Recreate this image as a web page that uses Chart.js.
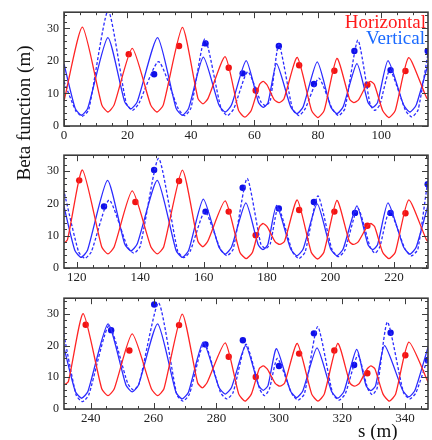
<!DOCTYPE html>
<html>
<head>
<meta charset="utf-8">
<script src="https://cdn.jsdelivr.net/npm/chart.js@4/dist/chart.umd.min.js"></script>
<style>
  body { margin: 0; background: #fff; width: 432px; height: 440px; position: relative; overflow: hidden; font-family: "Liberation Serif", serif; }
  canvas { position: absolute; left: 0; }
  .lbl { position: absolute; font-size: 19px; line-height: 19px; white-space: nowrap; }
  #ytitle { left: -76px; top: 102px; width: 200px; text-align: center; line-height: 22px; transform: rotate(-90deg); color: #111; }
</style>
</head>
<body>
<canvas id="p1" width="432" height="143" style="top:0px"></canvas>
<canvas id="p2" width="432" height="143" style="top:143px"></canvas>
<canvas id="p3" width="432" height="154" style="top:286px"></canvas>
<div class="lbl" style="right:6px;top:12px;color:#ff1a1a">Horizontal</div>
<div class="lbl" style="right:7px;top:28px;color:#1a6aff">Vertical</div>
<div class="lbl" style="left:358px;top:421px;color:#111">s (m)</div>
<div class="lbl" id="ytitle">Beta function (m)</div>
<script>
// horizontal beta (model), s in m
const redS = [
  0, 5.8, 11.9, 13.85, 15.8, 21.5, 27.3, 29.3, 31.3, 37.3, 42.2, 43.8, 45.4, 50.8, 55.0, 57.0, 59.0,
  61.6, 62.8, 64.0, 66.3, 67.8, 69.3, 73.5, 78.0, 80.0, 82.0, 86.0, 90.0, 91.3, 92.8, 95.3, 96.5, 97.8,
  100.4, 102.4, 104.4, 108.6, 114.3, 115.7, 117.1,
  121.8, 127.9, 129.85, 131.8, 137.5, 143.4, 145.4, 147.4, 153.3, 158.2, 159.75, 161.3, 166.8, 171.4, 173.4, 175.4,
  177.6, 178.8, 180.1, 182.5, 184.0, 185.5, 189.5, 193.9, 195.9, 197.9, 202.0, 205.9, 207.2, 208.7, 211.4, 212.6, 213.9,
  216.4, 218.4, 220.4, 224.6, 230.2, 231.5, 232.9,
  237.6, 243.5, 245.5, 247.5, 253.2, 259.3, 261.3, 263.3, 269.1, 274.0, 275.5, 277.0, 282.8, 287.1, 289.1, 291.1,
  293.6, 294.9, 296.2, 298.7, 300.2, 301.7, 305.7, 310.3, 312.3, 314.3, 318.6, 322.5, 323.9, 325.4, 327.9, 329.1, 330.4,
  333.0, 335.0, 337.0, 341.2, 347.5
];
const redB = [
  7.7, 30.4, 6.5, 4.3, 6.5, 23.9, 6.5, 4.3, 6.5, 30.3, 8.5, 6.8, 8.5, 21.3, 4.8, 2.7, 4.8,
  12.8, 13.7, 12.6, 8.0, 7.2, 8.3, 21.1, 4.8, 2.6, 4.8, 20.8, 8.2, 7.2, 8.0, 12.6, 13.7, 12.8,
  4.8, 2.6, 4.8, 21.0, 8.6, 7.6, 8.8,
  30.4, 6.5, 4.4, 6.5, 23.9, 6.5, 4.4, 6.5, 30.4, 8.3, 6.6, 8.3, 20.8, 4.9, 2.9, 4.9,
  12.8, 13.8, 12.7, 8.2, 7.3, 8.3, 21.1, 4.9, 2.8, 4.9, 21.0, 8.2, 7.3, 8.1, 12.7, 13.8, 12.8,
  4.9, 2.9, 4.9, 21.1, 8.8, 7.7, 8.7,
  30.1, 6.4, 4.2, 6.4, 23.7, 6.4, 4.2, 6.4, 30.0, 8.3, 6.7, 8.3, 20.9, 4.7, 2.5, 4.7,
  12.7, 13.6, 12.6, 8.1, 7.2, 8.2, 20.7, 4.7, 2.5, 4.7, 20.7, 8.1, 7.2, 8.0, 12.6, 13.6, 12.7,
  4.7, 2.5, 4.7, 21.1, 8.1
];

// vertical beta (model)
const blueS = [
  0, 3.5, 5.5, 7.5, 13.8, 19.1, 21.1, 23.1, 29.5, 35.3, 37.3, 39.3, 43.9, 48.8, 50.8, 52.8, 57.4,
  61.3, 62.8, 64.3, 67.0, 71.4, 73.4, 75.4, 79.8, 84.0, 86.0, 88.0, 92.3, 95.8, 97.3, 98.8, 102.1,
  107.0, 109.0, 111.0, 115.4,
  116.0, 119.4, 121.4, 123.4, 129.7, 135.1, 137.1, 139.1, 145.4, 151.3, 153.3, 155.3, 159.9, 164.8, 166.8, 168.8, 173.3,
  177.2, 178.7, 180.2, 183.0, 187.4, 189.4, 191.4, 195.8, 200.0, 202.0, 204.0, 208.3, 211.8, 213.3, 214.8, 218.1,
  223.0, 225.0, 227.0, 231.2,
  231.6, 235.1, 237.1, 239.1, 245.5, 251.2, 253.2, 255.2, 261.3, 267.1, 269.1, 271.1, 275.8, 280.8, 282.8, 284.8, 289.3,
  293.4, 294.9, 296.4, 299.1, 303.5, 305.5, 307.5, 312.0, 316.6, 318.6, 320.6, 324.6, 327.6, 329.1, 330.6, 333.5,
  339.2, 341.2, 343.2, 347.6
];
const blueB = [
  19.1, 5.5, 3.3, 5.5, 27.2, 7.5, 5.3, 7.5, 27.2, 5.5, 3.3, 5.5, 21.2, 6.5, 4.3, 6.5, 20.1,
  7.2, 5.7, 7.2, 19.2, 6.0, 3.8, 6.0, 19.7, 6.0, 3.8, 6.0, 19.2, 7.2, 5.7, 7.2, 20.1,
  6.5, 4.3, 6.5, 21.0,
  19.0, 5.5, 3.3, 5.5, 27.2, 7.5, 5.3, 7.5, 27.2, 5.5, 3.3, 5.5, 21.4, 6.5, 4.3, 6.5, 20.2,
  7.2, 5.7, 7.2, 19.4, 6.0, 3.8, 6.0, 19.9, 6.0, 3.8, 6.0, 19.3, 7.2, 5.7, 7.2, 20.2,
  6.5, 4.3, 6.5, 21.0,
  19.0, 5.5, 3.4, 5.5, 26.9, 7.6, 5.4, 7.6, 26.9, 5.3, 3.2, 5.3, 21.1, 6.8, 4.7, 6.8, 20.0,
  7.4, 5.9, 7.4, 19.1, 5.8, 3.6, 5.8, 19.3, 5.6, 3.4, 5.6, 18.8, 7.3, 5.8, 7.3, 20.0,
  6.0, 3.8, 6.0, 20.5
];

// vertical beta (dashed)
const dashS = [
  0, 3.8, 5.8, 7.8, 13.9, 19.6, 21.6, 23.6, 29.8, 36.0, 38.0, 40.0, 44.4, 49.5, 51.5, 53.5, 57.9,
  62.0, 63.5, 65.0, 67.7, 72.0, 74.0, 76.0, 80.3, 84.5, 86.5, 88.5, 92.6, 96.5, 98.0, 99.5, 102.7,
  107.6, 109.6, 111.6, 115.4,
  116.0, 120.6, 122.6, 124.6, 130.2, 136.0, 138.0, 140.0, 145.8, 151.8, 153.8, 155.8, 160.4, 165.3, 167.3, 169.3, 173.7,
  178.0, 179.5, 181.0, 183.5, 188.0, 190.0, 192.0, 196.0, 200.5, 202.5, 204.5, 208.6, 212.5, 214.0, 215.5, 218.6,
  223.5, 225.5, 227.5, 230.9,
  231.6, 235.4, 237.4, 239.4, 245.8, 251.8, 253.6, 255.4, 261.6, 267.4, 269.4, 271.4, 276.1, 281.3, 283.3, 285.3, 289.4,
  293.8, 295.3, 296.8, 299.4, 304.0, 306.0, 308.0, 312.2, 317.0, 319.0, 321.0, 325.0, 328.1, 329.6, 331.1, 334.4,
  339.5, 341.5, 343.5, 347.5
];
const dashB = [
  13.7, 4.5, 3.0, 5.0, 35.5, 7.0, 4.8, 7.0, 19.8, 5.3, 3.2, 5.5, 26.8, 5.3, 3.2, 5.3, 16.7,
  7.5, 6.2, 7.8, 25.1, 5.3, 3.2, 5.3, 14.7, 5.3, 3.2, 5.3, 26.4, 6.5, 4.8, 6.5, 17.2,
  4.8, 2.8, 5.0, 26.0,
  23.7, 5.0, 3.0, 5.0, 21.1, 6.5, 4.6, 6.7, 34.0, 5.3, 3.2, 5.3, 17.5, 5.8, 3.8, 5.8, 27.8,
  7.5, 6.0, 7.5, 18.8, 5.0, 2.9, 5.0, 22.4, 5.5, 3.5, 5.5, 18.5, 6.4, 4.6, 6.5, 17.8,
  5.8, 3.8, 5.8, 28.2,
  22.9, 4.3, 2.3, 4.5, 26.3, 8.0, 6.0, 8.0, 33.5, 4.5, 2.5, 4.7, 20.9, 5.2, 3.2, 5.2, 20.5,
  6.2, 4.2, 6.2, 16.0, 4.8, 2.8, 4.8, 26.0, 4.8, 2.8, 4.8, 17.0, 6.5, 4.5, 6.5, 27.5,
  5.2, 3.2, 5.2, 17.0
];

// measured points
const redDotS = [20.4, 36.25, 51.9, 60.4, 74.1, 85.2, 95.6, 107.6,
  120.8, 138.5, 152.25, 167.9, 176.4, 190.1, 201.2, 211.6, 223.6,
  238.4, 252.3, 268.1, 283.9, 292.5, 306.3, 317.5, 328.0, 340.1];
const redDotB = [22.1, 24.6, 17.9, 10.9, 18.7, 17.0, 12.7, 16.9,
  27.2, 20.5, 27.0, 17.5, 10.2, 18.0, 17.5, 13.1, 17.0,
  26.6, 18.5, 26.5, 16.5, 10.1, 17.5, 18.5, 11.3, 17.0];
const blueDotS = [28.4, 44.6, 56.3, 67.7, 78.75, 91.5, 102.9, 114.6,
  128.6, 144.4, 160.6, 172.3, 183.7, 194.75, 207.7, 218.9, 230.6,
  246.5, 260.2, 276.5, 288.4, 299.9, 311.0, 323.8, 335.4, 347.2];
const blueDotB = [15.9, 25.4, 16.2, 24.6, 12.9, 23.1, 17.2, 23.1,
  19.1, 30.4, 17.5, 24.9, 18.5, 20.5, 17.1, 17.1, 26.0,
  24.9, 33.0, 20.4, 21.7, 13.6, 23.9, 13.9, 24.1, 15.5];

// axis ticks
const xTicks1 = [0, 20, 40, 60, 80, 100];
const xTicks2 = [120, 140, 160, 180, 200, 220];
const xTicks3 = [240, 260, 280, 300, 320, 340];
const yTicks = [0, 10, 20, 30];

const RED = "#ff2424";
const BLUE = "#2b2bff";

const pts = (S, B) => S.map((s, i) => ({ x: s, y: B[i] }));

// frame with inward ticks on all four sides
const framePlugin = {
  id: "frame",
  afterDatasetsDraw(chart) {
    const { ctx, chartArea: a, scales: { x, y } } = chart;
    ctx.save();
    ctx.strokeStyle = "#3c3c3c";
    ctx.lineWidth = 1;
    ctx.beginPath();
    for (let v = Math.ceil(x.min / 5) * 5; v <= x.max; v += 5) {
      const px = Math.round(x.getPixelForValue(v)) + 0.5;
      const L = v % 20 === 0 ? 6 : 3;
      ctx.moveTo(px, a.bottom); ctx.lineTo(px, a.bottom - L);
      ctx.moveTo(px, a.top); ctx.lineTo(px, a.top + L);
    }
    for (let v = 0; v <= y.max; v += 2) {
      const py = Math.round(y.getPixelForValue(v)) + 0.5;
      const L = v % 10 === 0 ? 6 : 3;
      ctx.moveTo(a.left, py); ctx.lineTo(a.left + L, py);
      ctx.moveTo(a.right, py); ctx.lineTo(a.right - L, py);
    }
    ctx.stroke();
    ctx.lineWidth = 1.6;
    ctx.strokeRect(a.left, a.top, a.right - a.left, a.bottom - a.top);
    ctx.restore();
  }
};

function makePanel(id, xmin, xmax, xTicks, padTop, xHeight) {
  new Chart(document.getElementById(id), {
    type: "scatter",
    data: {
      datasets: [
        { data: pts(redS, redB), showLine: true, borderColor: RED, borderWidth: 1.3, pointRadius: 0, tension: 0.2 },
        { data: pts(blueS, blueB), showLine: true, borderColor: BLUE, borderWidth: 1.3, pointRadius: 0, tension: 0.2 },
        { data: pts(dashS, dashB), showLine: true, borderColor: BLUE, borderWidth: 1.3, borderDash: [3, 2], pointRadius: 0, tension: 0.2 },
        { data: pts(redDotS, redDotB), pointRadius: 3.2, pointBackgroundColor: "#f01414", pointBorderWidth: 0 },
        { data: pts(blueDotS, blueDotB), pointRadius: 3.2, pointBackgroundColor: "#1010e8", pointBorderWidth: 0 }
      ]
    },
    options: {
      responsive: false,
      animation: false,
      devicePixelRatio: 1,
      events: [],
      layout: { padding: { top: padTop, right: 1, left: 0, bottom: 0 } },
      plugins: { legend: { display: false }, tooltip: { enabled: false } },
      scales: {
        x: {
          type: "linear", min: xmin, max: xmax,
          grid: { display: false, drawTicks: false }, border: { display: false },
          afterBuildTicks: s => { s.ticks = xTicks.map(v => ({ value: v })); },
          afterFit: s => { s.height = xHeight; },
          ticks: { padding: 2, color: "#222", font: { family: "Liberation Serif", size: 13 }, maxRotation: 0, autoSkip: false }
        },
        y: {
          min: 0, max: 35,
          grid: { display: false, drawTicks: false }, border: { display: false },
          afterBuildTicks: s => { s.ticks = yTicks.map(v => ({ value: v })); },
          afterFit: s => { s.width = 64; },
          ticks: { padding: 5, color: "#222", font: { family: "Liberation Serif", size: 12 } }
        }
      }
    },
    plugins: [framePlugin]
  });
}

makePanel("p1", 0, 114.7, xTicks1, 8, 17);
makePanel("p2", 116, 230.7, xTicks2, 7, 18);
makePanel("p3", 231.5, 347.3, xTicks3, 5, 31);
</script>
</body>
</html>
